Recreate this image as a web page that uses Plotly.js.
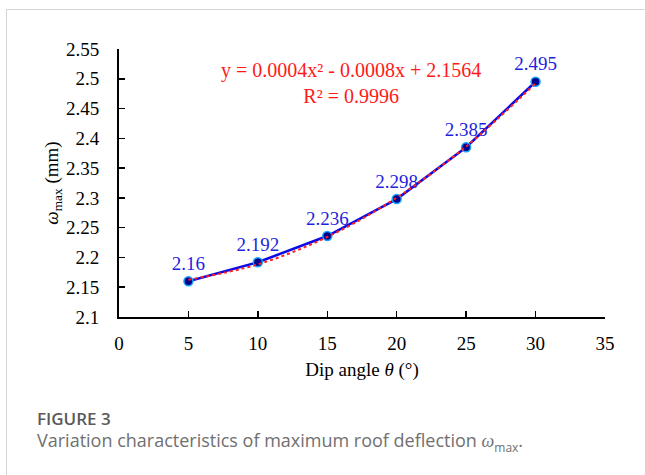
<!DOCTYPE html>
<html>
<head>
<meta charset="utf-8">
<script src="https://cdn.plot.ly/plotly-3.0.1.min.js"></script>
<style>
  html, body { margin: 0; padding: 0; background: #fff; }
  #wrap { position: relative; width: 645px; height: 475px; overflow: hidden; }
  #frame { position: absolute; left: 6px; top: 9px; width: 700px; height: 600px;
           border-top: 1.5px solid #d4d4d4; border-left: 1.5px solid #d4d4d4; }
  #chart { position: absolute; left: 0; top: 0; width: 645px; height: 475px; }
  .cap1 { position: absolute; left: 37px; top: 407px; font-family: 'Open Sans', sans-serif;
          font-weight: 600; font-size: 17px; line-height: 23px; color: #5a5a5a; }
  .cap2 { position: absolute; left: 37px; top: 428px; font-family: 'Open Sans', sans-serif;
          font-size: 18px; line-height: 24px; color: #707070; white-space: nowrap; }
</style>
</head>
<body>
<div id="wrap">
  <div id="frame"></div>
  <div id="chart"></div>
  <div class="cap1">FIGURE 3</div>
  <div class="cap2">Variation characteristics of maximum roof deflection <i style="font-family:'Liberation Serif',serif">ω</i><sub style="font-size:12px;line-height:0">max</sub>.</div>
</div>
<script>
const dipAngle = [5, 10, 15, 20, 25, 30];
const omegaMax = [2.16, 2.192, 2.236, 2.298, 2.385, 2.495];
const dataLabels = ['2.16', '2.192', '2.236', '2.298', '2.385', '2.495'];
const trendX = [5, 10, 15, 20, 25, 30];
const trendY = [2.1624, 2.1884, 2.2344, 2.3004, 2.3864, 2.4924];
const xTicks = [0, 5, 10, 15, 20, 25, 30, 35];
const yTicks = [2.1, 2.15, 2.2, 2.25, 2.3, 2.35, 2.4, 2.45, 2.5, 2.55];
const yTickText = ['2.1', '2.15', '2.2', '2.25', '2.3', '2.35', '2.4', '2.45', '2.5', '2.55'];
const equationText = 'y = 0.0004x² - 0.0008x + 2.1564<br>R² = 0.9996';

const serif = "'Liberation Serif', 'Times New Roman', serif";

const traces = [
  {
    x: dipAngle, y: omegaMax, type: 'scatter', mode: 'lines+markers+text',
    text: dataLabels, textposition: 'top center',
    textfont: { family: serif, size: 19, color: '#1f1fe0' },
    line: { color: '#0a0ae6', width: 2.5 },
    marker: { color: '#00008c', size: 9, line: { color: '#1aa3ff', width: 1.5 } },
    cliponaxis: false, hoverinfo: 'skip'
  },
  {
    x: trendX, y: trendY, type: 'scatter', mode: 'lines',
    line: { color: '#ff2020', width: 2, dash: 'dot', shape: 'spline' },
    hoverinfo: 'skip'
  }
];

const layout = {
  width: 645, height: 475,
  margin: { l: 119, r: 40, t: 49, b: 158 },
  paper_bgcolor: 'rgba(0,0,0,0)', plot_bgcolor: 'rgba(0,0,0,0)',
  showlegend: false,
  font: { family: serif, size: 19, color: '#000' },
  xaxis: {
    range: [0, 35], tickvals: xTicks, ticktext: xTicks.map(String),
    showgrid: false, zeroline: false, showline: true, linecolor: '#000', linewidth: 2,
    ticks: 'inside', ticklen: 6, tickwidth: 1.5, tickcolor: '#000',
    ticklabelstandoff: 8,
    tickfont: { family: serif, size: 19, color: '#000' },
    title: { text: 'Dip angle <i>θ</i> (°)', font: { family: serif, size: 19, color: '#000' }, standoff: 10 }
  },
  yaxis: {
    range: [2.1, 2.55], tickvals: yTicks, ticktext: yTickText,
    showgrid: false, zeroline: false, showline: true, linecolor: '#000', linewidth: 2,
    ticks: 'inside', ticklen: 6, tickwidth: 1.5, tickcolor: '#000',
    ticklabelstandoff: 14,
    tickfont: { family: serif, size: 19, color: '#000' },
    title: { text: '<i>ω</i><sub>max</sub> (mm)', font: { family: serif, size: 19, color: '#000' }, standoff: 2 }
  },
  annotations: [
    {
      xref: 'paper', yref: 'paper', text: equationText, xanchor: 'center', yanchor: 'middle',
      showarrow: false, font: { family: serif, size: 20, color: '#ff1a1a' }, align: 'center'
    }
  ]
};
const plotW = 645 - 119 - 40, plotH = 475 - 49 - 158;
layout.annotations[0].x = (351 - 119) / plotW;
layout.annotations[0].y = (475 - 158 - 83) / plotH;

Plotly.newPlot('chart', traces, layout, { displayModeBar: false, staticPlot: true });
</script>
</body>
</html>
